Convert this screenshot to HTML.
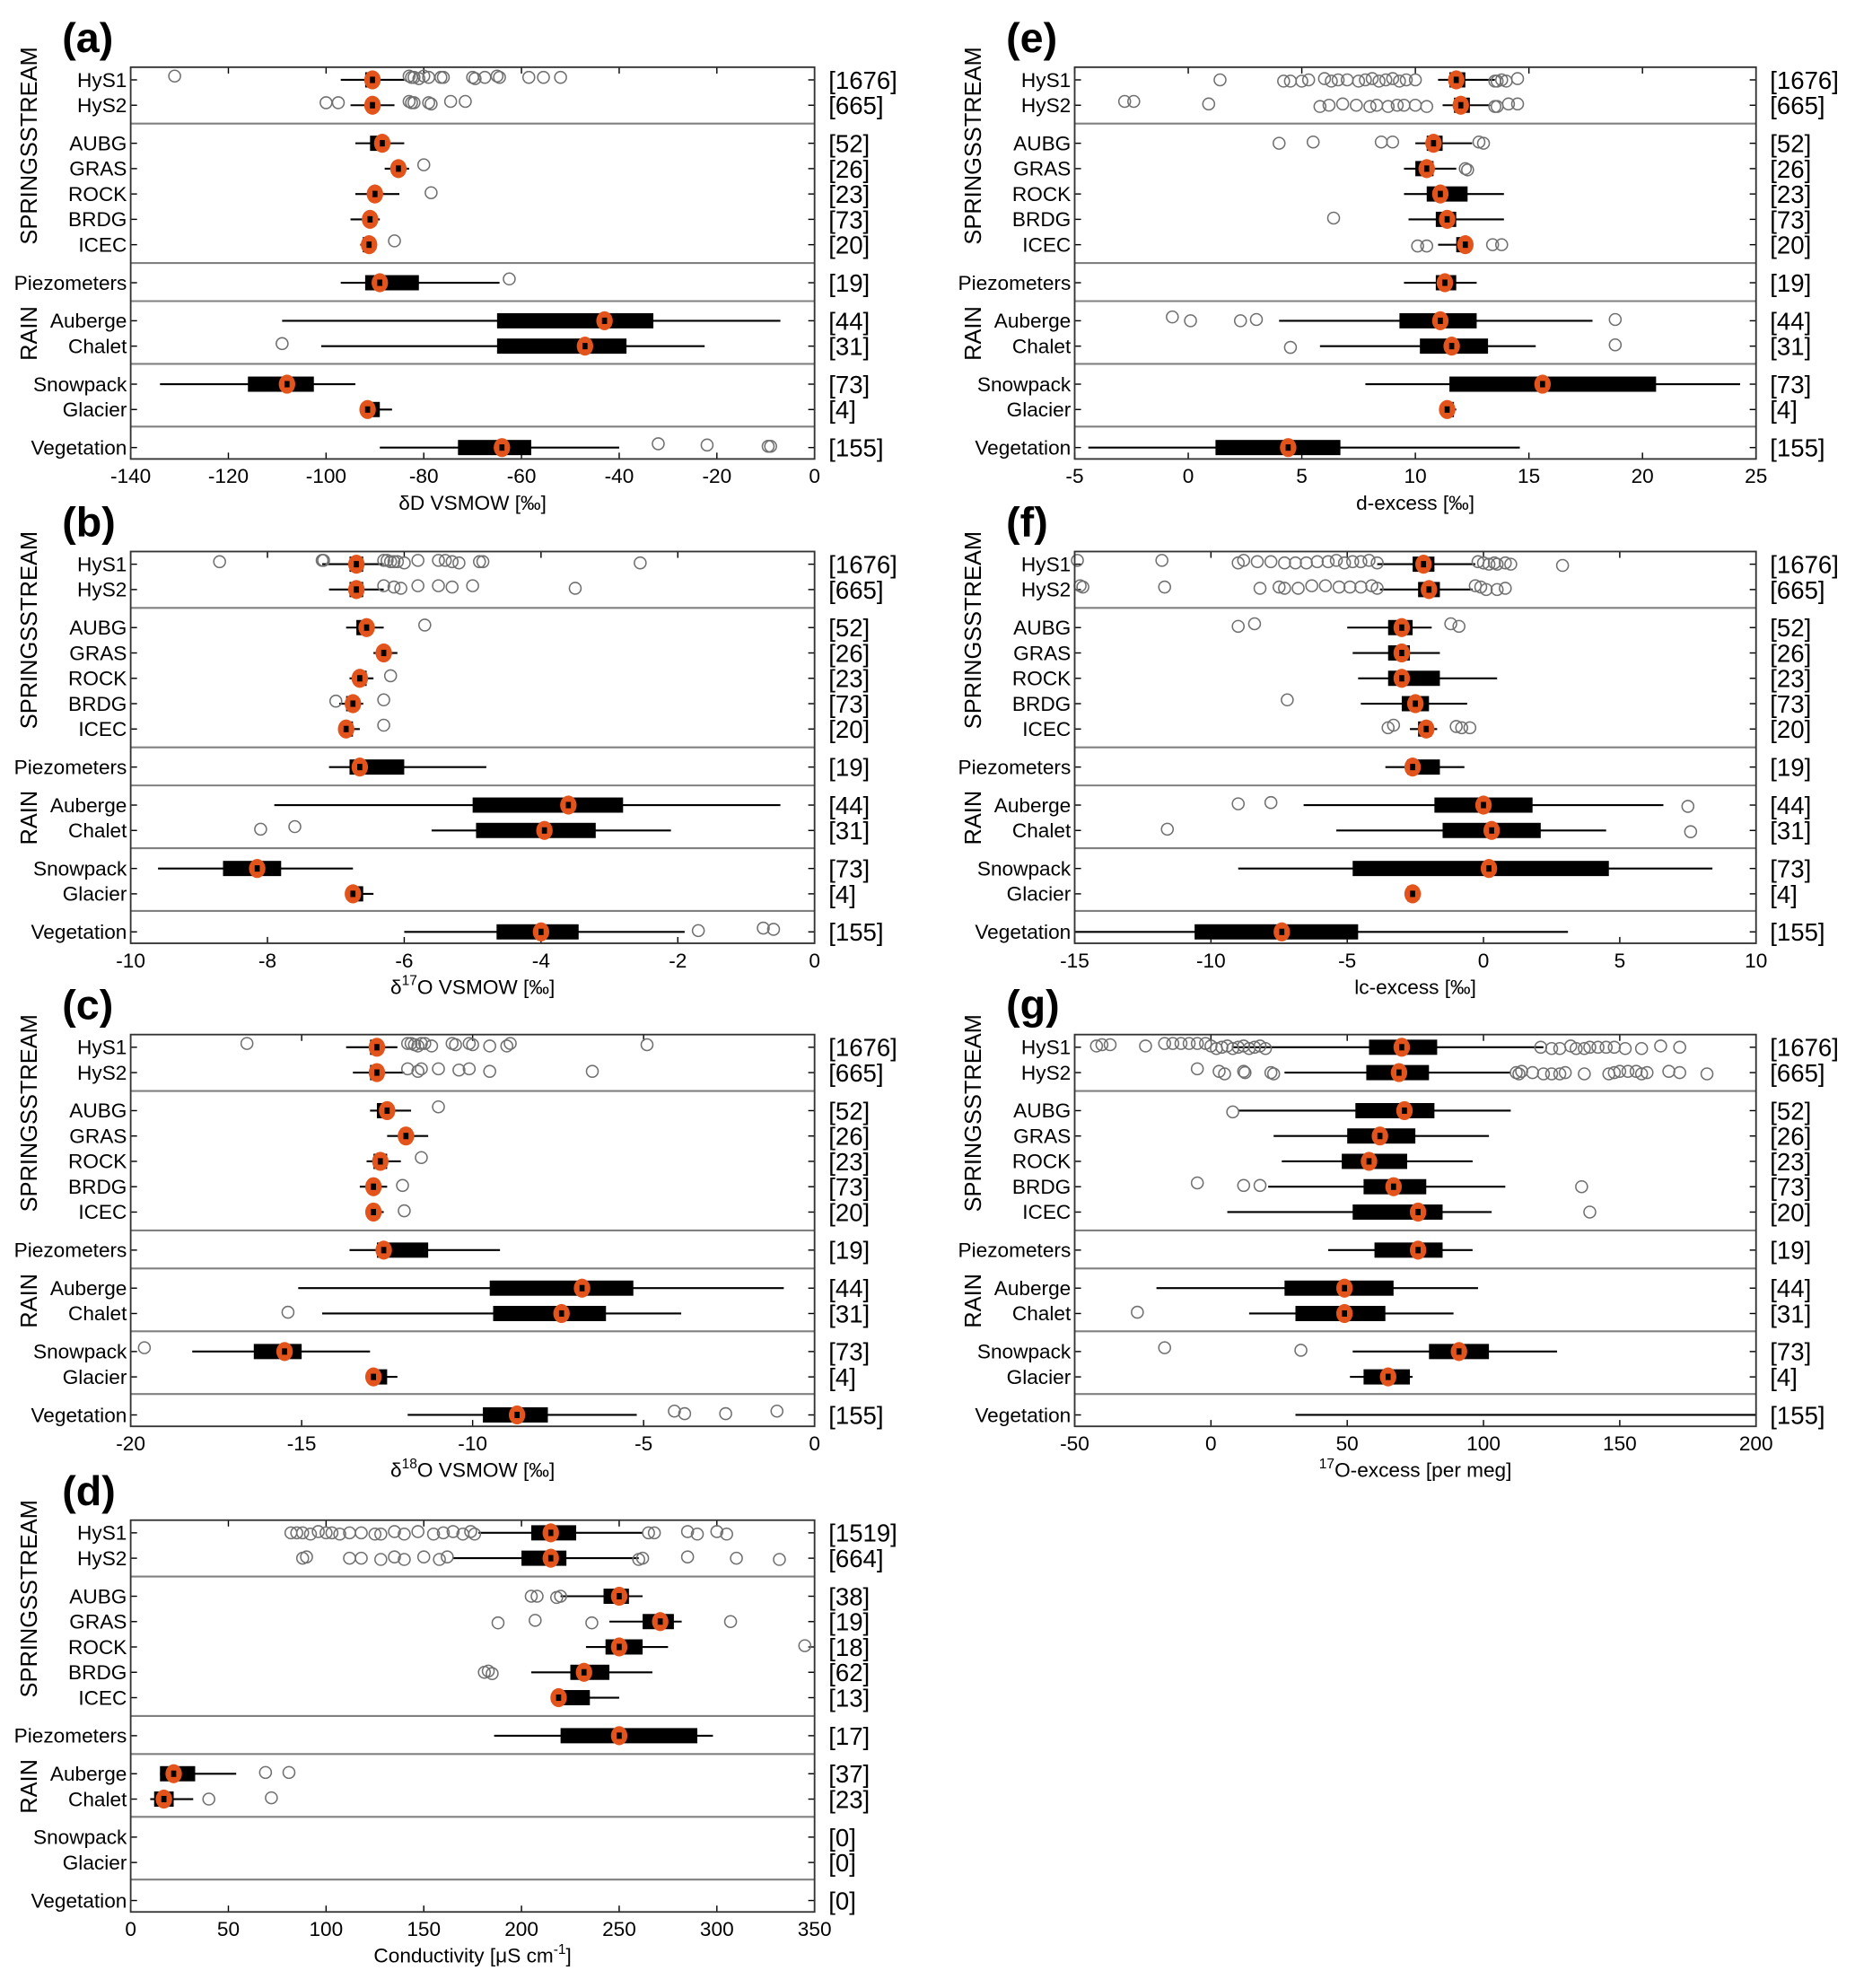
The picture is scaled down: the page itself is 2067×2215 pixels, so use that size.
<!DOCTYPE html>
<html><head><meta charset="utf-8">
<style>
html,body{margin:0;padding:0;background:#fff;}
svg{display:block;font-family:"Liberation Sans Narrow","Liberation Sans",sans-serif;}
</style></head>
<body>
<svg id="fig" width="2067" height="2215" viewBox="0 0 1462 1568" preserveAspectRatio="none" xmlns="http://www.w3.org/2000/svg"></svg>
<script>
const rowNames=["HyS1","HyS2","AUBG","GRAS","ROCK","BRDG","ICEC","Piezometers","Auberge","Chalet","Snowpack","Glacier","Vegetation"];
const countsStd=[1676,665,52,26,23,73,20,19,44,31,73,4,155];
const countsD=[1519,664,38,19,18,62,13,17,37,23,0,0,0];

// panel a: dD
const aLo=[-97,-95,-94,-88,-94,-95,-93,-97,-109,-101,-134,-91,-89];
const aQ1=[-92,-91,-91,-86,-91,-92,-92.5,-92,-65,-65,-116,-91,-73];
const aQ3=[-90,-90,-88.5,-85,-89,-90.5,-91,-81,-33,-38.5,-102.5,-89,-58];
const aHi=[-84,-86,-84,-83,-85,-89,-91,-64.5,-7,-22.5,-94,-86.5,-40];
const aMean=[-90.5,-90.5,-88.5,-85.2,-90,-91,-91.2,-89,-43,-47,-108,-91.5,-64];
const aOut=[[-131,-83,-82.5,-82,-81,-80,-79,-76.5,-76,-70,-69.5,-67.5,-65,-64.5,-58.5,-55.5,-52],[-100,-97.5,-83,-82.5,-82,-79,-78.5,-74.5,-71.5],[],[-80],[-78.5],[],[-86],[-62.5],[],[-109],[],[],[-32,-22,-9.5,-9]];
// panel b: d17O
const bLo=[-7.2,-7.1,-6.85,-6.45,-6.8,-6.95,-6.9,-7.1,-7.9,-5.6,-9.6,-6.8,-6];
const bQ1=[-6.8,-6.8,-6.7,-6.35,-6.7,-6.85,-6.85,-6.8,-5.0,-4.95,-8.65,-6.75,-4.65];
const bQ3=[-6.6,-6.6,-6.5,-6.25,-6.55,-6.7,-6.75,-6.0,-2.8,-3.2,-7.8,-6.6,-3.45];
const bHi=[-6.3,-6.3,-6.3,-6.1,-6.45,-6.6,-6.65,-4.8,-0.5,-2.1,-6.75,-6.45,-1.9];
const bMean=[-6.7,-6.7,-6.55,-6.3,-6.65,-6.75,-6.85,-6.65,-3.6,-3.95,-8.15,-6.75,-4.0];
const bOut=[[-8.7,-7.2,-7.18,-6.3,-6.25,-6.2,-6.15,-6.1,-6.0,-5.8,-5.5,-5.4,-5.3,-5.2,-4.9,-4.85,-2.55],[-6.3,-6.15,-6.05,-5.8,-5.5,-5.3,-5.0,-3.5],[-5.7],[],[-6.2],[-7.0,-6.3],[-6.3],[],[],[-8.1,-7.6],[],[],[-1.7,-0.75,-0.6]];
// panel c: d18O
const cLo=[-13.7,-13.5,-13,-12.5,-13.1,-13.3,-13.1,-13.6,-15.1,-14.4,-18.2,-13.0,-11.9];
const cQ1=[-13.0,-13.0,-12.8,-12.1,-12.9,-13.0,-13.0,-12.8,-9.5,-9.4,-16.4,-12.9,-9.7];
const cQ3=[-12.7,-12.7,-12.4,-11.8,-12.5,-12.8,-12.8,-11.3,-5.3,-6.1,-15.0,-12.5,-7.8];
const cHi=[-12.2,-12.0,-11.8,-11.3,-12.1,-12.5,-12.6,-9.2,-0.9,-3.9,-13.0,-12.2,-5.2];
const cMean=[-12.8,-12.8,-12.5,-11.95,-12.7,-12.9,-12.9,-12.6,-6.8,-7.4,-15.5,-12.9,-8.7];
const cOut=[[-16.6,-11.9,-11.8,-11.7,-11.6,-11.5,-11.4,-11.2,-10.6,-10.5,-10.1,-10.0,-9.5,-9.0,-8.9,-4.9],[-11.9,-11.6,-11.5,-11.0,-10.4,-10.1,-9.5,-6.5],[-11.0],[],[-11.5],[-12.05],[-12.0],[],[],[-15.4],[-19.6],[],[-4.1,-3.8,-2.6,-1.1]];
// panel d: conductivity
const dLo=[178,165,220,245,233,205,218,186,15,10,null,null,null];
const dQ1=[205,200,242,262,243,225,220,220,15,12,null,null,null];
const dQ3=[228,223,255,278,262,245,235,290,33,22,null,null,null];
const dHi=[262,260,262,282,275,267,250,298,54,32,null,null,null];
const dMean=[215,215,250,271,250,232,219,250,22,17,null,null,null];
const dOut=[[82,85,88,92,96,100,103,107,112,118,125,128,135,140,147,155,160,165,170,174,176,265,268,285,290,300,305],[88,90,112,118,128,135,140,150,158,162,260,262,285,310,332],[205,208,218,220],[188,207,236,307],[345],[181,183,185],[],[],[69,81],[40,72],[],[],[]];
// panel e: d-excess
const eLo=[11,11.2,10,9.5,9.5,9.7,11.0,9.5,4,5.8,7.8,11.2,-4.4];
const eQ1=[11.5,11.7,10.5,10,10.5,10.9,11.8,10.9,9.3,10.2,11.5,11.3,1.2];
const eQ3=[12.2,12.4,11.2,10.8,12.3,11.8,12.3,11.8,12.7,13.2,20.6,11.7,6.7];
const eHi=[13.5,13.3,12.5,11.8,13.9,13.9,12.3,12.7,17.8,15.3,24.3,11.8,14.6];
const eMean=[11.8,12,10.8,10.5,11.1,11.4,12.2,11.3,11.1,11.6,15.6,11.4,4.4];
const eOut=[[1.4,4.2,4.5,5.0,5.3,6,6.3,6.6,7,7.5,7.8,8.1,8.4,8.7,9,9.3,9.6,10,13.5,13.6,13.8,14,14.5],[-2.8,-2.4,0.9,5.8,6.2,6.8,7.4,8,8.3,8.8,9.2,9.5,10,10.5,13.5,13.6,14.1,14.5],[4,5.5,8.5,9,12.8,13],[12.2,12.3],[],[6.4],[10.1,10.5,13.4,13.8],[],[-0.7,0.1,2.3,3,18.8],[4.5,18.8],[],[],[]];
// panel f: lc-excess
const fLo=[-3.9,-3.8,-5,-4.8,-4.6,-4.5,-2.7,-3.6,-6.6,-5.4,-9,-2.9,-15];
const fQ1=[-2.6,-2.4,-3.5,-3.5,-3.5,-3.0,-2.4,-2.8,-1.8,-1.5,-4.8,-2.8,-10.6];
const fQ3=[-1.8,-1.6,-2.6,-2.7,-1.6,-2.0,-1.9,-1.6,1.8,2.1,4.6,-2.5,-4.6];
const fHi=[-0.3,-0.4,-1.9,-1.6,0.5,-0.6,-1.7,-0.7,6.6,4.5,8.4,-2.3,3.1];
const fMean=[-2.2,-2.0,-3.0,-3.0,-3.0,-2.5,-2.1,-2.6,0,0.3,0.2,-2.6,-7.4];
const fOut=[[-14.9,-11.8,-9.0,-8.8,-8.3,-7.8,-7.3,-6.9,-6.5,-6.1,-5.7,-5.4,-5.1,-4.8,-4.5,-4.2,-3.9,-0.2,0,0.2,0.4,0.5,0.8,1.0,2.9],[-14.8,-14.7,-11.7,-8.2,-7.5,-7.3,-6.8,-6.3,-5.8,-5.3,-4.9,-4.5,-4.1,-3.9,-0.3,-0.1,0.1,0.5,0.8],[-9,-8.4,-1.2,-0.9],[],[],[-7.2],[-3.5,-3.3,-1.0,-0.8,-0.5],[],[-9,-7.8,7.5],[-11.6,7.6],[],[],[]];
// panel g: 17O-excess
const gLo=[8,27,10,23,26,21,6,43,-20,14,52,51,31];
const gQ1=[58,57,53,50,48,56,52,60,27,31,80,56,null];
const gQ3=[83,80,82,75,72,79,85,85,67,64,102,73,null];
const gHi=[122,110,110,102,96,108,103,96,98,89,127,74,200];
const gMean=[70,69,71,62,58,67,76,76,49,49,91,65,null];
const gOut=[[-42,-40,-37,-24,-17,-14,-11,-8,-5,-2,0,2,4,6,8,10,12,14,16,18,20,121,125,128,132,134,137,139,142,145,148,152,158,165,172],[-5,3,5,12,12.5,22,23,112,113,114,118,122,125,128,130,137,146,148,150,153,156,158,160,168,172,182],[8],[],[],[-5,12,18,136],[139],[],[],[-27],[-17,33],[],[]];

const svg=document.getElementById('fig');
const NS='http://www.w3.org/2000/svg';
function mk(tag,attrs,parent){const e=document.createElementNS(NS,tag);for(const k in attrs)e.setAttribute(k,attrs[k]);(parent||svg).appendChild(e);return e;}

const rowOff=[10,30,60,80,100,120,140,170,200,220,250,270,300];
const sepOff=[44.5,154.5,184.5,234,283.5];
const H=309;

const panels=[
 {id:'a',x0:103,x1:642,top:53,min:-140,max:0,ticks:[-140,-120,-100,-80,-60,-40,-20,0],lo:aLo,q1:aQ1,q3:aQ3,hi:aHi,mean:aMean,out:aOut,counts:countsStd,xl:'δD VSMOW [‰]'},
 {id:'b',x0:103,x1:642,top:435,min:-10,max:0,ticks:[-10,-8,-6,-4,-2,0],lo:bLo,q1:bQ1,q3:bQ3,hi:bHi,mean:bMean,out:bOut,counts:countsStd,xl:'17'},
 {id:'c',x0:103,x1:642,top:816,min:-20,max:0,ticks:[-20,-15,-10,-5,0],lo:cLo,q1:cQ1,q3:cQ3,hi:cHi,mean:cMean,out:cOut,counts:countsStd,xl:'18'},
 {id:'d',x0:103,x1:642,top:1199,min:0,max:350,ticks:[0,50,100,150,200,250,300,350],lo:dLo,q1:dQ1,q3:dQ3,hi:dHi,mean:dMean,out:dOut,counts:countsD,xl:'cond'},
 {id:'e',x0:847,x1:1384,top:53,min:-5,max:25,ticks:[-5,0,5,10,15,20,25],lo:eLo,q1:eQ1,q3:eQ3,hi:eHi,mean:eMean,out:eOut,counts:countsStd,xl:'d-excess [‰]'},
 {id:'f',x0:847,x1:1384,top:435,min:-15,max:10,ticks:[-15,-10,-5,0,5,10],lo:fLo,q1:fQ1,q3:fQ3,hi:fHi,mean:fMean,out:fOut,counts:countsStd,xl:'lc-excess [‰]'},
 {id:'g',x0:847,x1:1384,top:816,min:-50,max:200,ticks:[-50,0,50,100,150,200],lo:gLo,q1:gQ1,q3:gQ3,hi:gHi,mean:gMean,out:gOut,counts:countsStd,xl:'O17x'}
];

panels.forEach(p=>{
  const g=mk('g',{});
  
  
  const sx=v=>p.x0+(v-p.min)/(p.max-p.min)*(p.x1-p.x0);
  const top=p.top, bot=p.top+H;
  const L=mk('text',{x:p.x0-54,y:top-12,'font-size':33,'font-weight':'bold','font-family':'Liberation Sans, sans-serif'},g);
  L.textContent='('+p.id+')';
  
  
  sepOff.forEach(s=>{const l=mk('line',{x1:p.x0,x2:p.x1,y1:top+s,y2:top+s,stroke:'#808080','stroke-width':1.5},g);
    
    });
  p.ticks.forEach(t=>{const x=sx(t);
    mk('line',{x1:x,x2:x,y1:bot,y2:bot-5,stroke:'#000','stroke-width':1},g);
    mk('line',{x1:x,x2:x,y1:top,y2:top+5,stroke:'#000','stroke-width':1},g);
    const tt=mk('text',{x:x,y:bot+19,'font-size':16,'text-anchor':'middle'},g);
    tt.textContent=t;
    
    });
  rowNames.forEach((n,i)=>{
    const y=top+rowOff[i];
    mk('line',{x1:p.x0,x2:p.x0+5,y1:y,y2:y,stroke:'#000','stroke-width':1},g);
    mk('line',{x1:p.x1,x2:p.x1-5,y1:y,y2:y,stroke:'#000','stroke-width':1},g);
    const lt=mk('text',{x:p.x0-3,y:y+5.5,'font-size':16,'text-anchor':'end'},g);
    lt.textContent=n;
    
    
    const ct=mk('text',{x:p.x1+11,y:y+7,'font-size':19.5},g);
    ct.textContent='['+p.counts[i]+']';
    
    
    if(p.lo[i]!=null){
      const w=mk('line',{x1:sx(p.lo[i]),x2:sx(p.hi[i]),y1:y,y2:y,stroke:'#000','stroke-width':1.5},g);
      
      
    }
    if(p.q1[i]!=null){
      const b=mk('rect',{x:sx(p.q1[i]),y:y-6,width:sx(p.q3[i])-sx(p.q1[i]),height:12,fill:'#000'},g);
      
      
    }
    p.out[i].forEach(v=>{
      const c=mk('circle',{cx:sx(v),cy:y+(Math.round(v*7)%3)-1,r:4.6,fill:'none',stroke:'#707070','stroke-width':1.1},g);
      
      
    });
    if(p.mean[i]!=null){
      const m=mk('ellipse',{cx:sx(p.mean[i]),cy:y,rx:6.5,ry:7.5,fill:'#e2541b'},g);
      
      
      mk('rect',{x:sx(p.mean[i])-2,y:y-2.5,width:4,height:5,fill:'#000'},g);
    }
  });
  const fr=mk('rect',{x:p.x0,y:top,width:p.x1-p.x0,height:H,fill:'none',stroke:'#333','stroke-width':1.3},g);
  
  
  [['SPRINGSSTREAM',top+62],['RAIN',top+210]].forEach(([t,cy])=>{
    const gl=mk('text',{x:0,y:0,'font-size':18,'text-anchor':'middle','font-family':'Liberation Sans, sans-serif',transform:`translate(${p.x0-74},${cy}) rotate(-90)`},g);
    gl.textContent=t;
    
    
  });
  const cx=(p.x0+p.x1)/2, ly=bot+40;
  const xl=mk('text',{x:cx,y:ly,'font-size':16,'text-anchor':'middle'},g);
  
  
  if(p.xl==='17'||p.xl==='18'){
    xl.innerHTML='δ<tspan dy="-7" font-size="11">'+p.xl+'</tspan><tspan dy="7">O VSMOW [‰]</tspan>';
  } else if(p.xl==='cond'){
    xl.innerHTML='Conductivity [μS cm<tspan dy="-7" font-size="11">-1</tspan><tspan dy="7">]</tspan>';
  } else if(p.xl==='O17x'){
    xl.innerHTML='<tspan dy="-7" font-size="11">17</tspan><tspan dy="7">O-excess [per meg]</tspan>';
  } else xl.textContent=p.xl;
});
</script>
</body></html>
